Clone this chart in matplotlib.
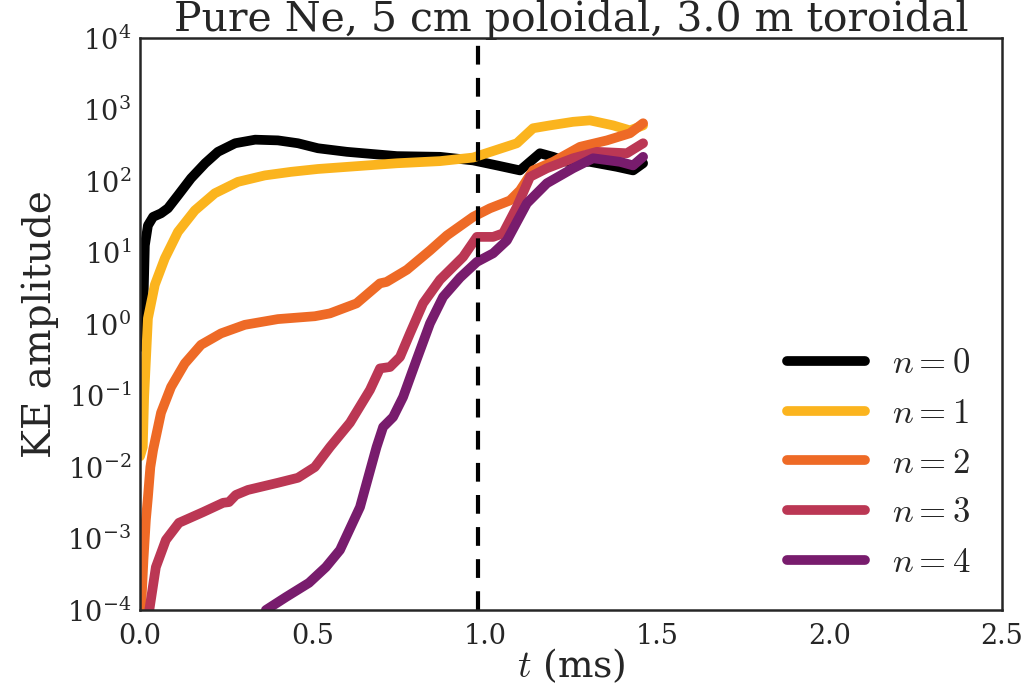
import numpy as np
import matplotlib
matplotlib.use("Agg")
import matplotlib.pyplot as plt
import seaborn as sns

# KE amplitude per toroidal mode number: time (ms) and log10 of the amplitude
t_n0 = [0.0, 0.008, 0.014, 0.023, 0.038, 0.061, 0.081, 0.110, 0.148, 0.189,
        0.226, 0.276, 0.334, 0.400, 0.458, 0.516, 0.600, 0.745, 0.870, 0.966,
        1.035, 1.102, 1.131, 1.160, 1.198, 1.238, 1.305, 1.383, 1.430, 1.459]
lg_n0 = [-0.32, -0.08, 1.10, 1.38, 1.50, 1.55, 1.62, 1.80, 2.04, 2.25,
         2.41, 2.53, 2.58, 2.57, 2.53, 2.46, 2.41, 2.35, 2.34, 2.29,
         2.22, 2.15, 2.27, 2.39, 2.34, 2.27, 2.27, 2.20, 2.15, 2.25]

t_n1 = [0.0, 0.008, 0.012, 0.023, 0.043, 0.072, 0.110, 0.159, 0.217, 0.284,
        0.362, 0.438, 0.516, 0.745, 0.870, 0.966, 1.093, 1.140, 1.189, 1.256,
        1.305, 1.372, 1.421, 1.459]
lg_n1 = [-1.85, -1.72, -1.02, 0.08, 0.55, 0.92, 1.29, 1.59, 1.83, 1.99,
         2.08, 2.13, 2.17, 2.25, 2.28, 2.33, 2.53, 2.74, 2.78, 2.83,
         2.85, 2.78, 2.71, 2.78]

t_n2 = [0.003, 0.010, 0.017, 0.023, 0.030, 0.038, 0.061, 0.090, 0.130, 0.177,
        0.235, 0.304, 0.400, 0.507, 0.551, 0.628, 0.696, 0.715, 0.774, 0.841,
        0.890, 0.966, 1.015, 1.073, 1.102, 1.140, 1.198, 1.276, 1.354, 1.421,
        1.459]
lg_n2 = [-4.0, -3.3, -2.74, -2.42, -2.0, -1.76, -1.24, -0.88, -0.55, -0.29,
         -0.13, -0.01, 0.07, 0.11, 0.15, 0.29, 0.57, 0.59, 0.76, 1.03,
         1.24, 1.50, 1.62, 1.73, 1.87, 2.15, 2.27, 2.48, 2.57, 2.67,
         2.81]

t_n3 = [0.027, 0.046, 0.075, 0.113, 0.183, 0.241, 0.258, 0.278, 0.313, 0.400,
        0.458, 0.507, 0.551, 0.609, 0.667, 0.696, 0.725, 0.754, 0.783, 0.821,
        0.870, 0.937, 0.977, 1.024, 1.053, 1.093, 1.131, 1.180, 1.256, 1.325,
        1.412, 1.459]
lg_n3 = [-4.0, -3.40, -3.02, -2.78, -2.63, -2.50, -2.49, -2.39, -2.32, -2.22,
         -2.15, -2.00, -1.72, -1.38, -0.92, -0.62, -0.60, -0.46, -0.13, 0.29,
         0.62, 0.94, 1.22, 1.22, 1.27, 1.64, 2.06, 2.18, 2.32, 2.41,
         2.39, 2.53]

t_n4 = [0.365, 0.423, 0.490, 0.539, 0.580, 0.638, 0.686, 0.705, 0.734, 0.763,
        0.802, 0.841, 0.879, 0.928, 0.977, 1.024, 1.064, 1.122, 1.180, 1.256,
        1.314, 1.392, 1.430, 1.459]
lg_n4 = [-4.0, -3.82, -3.62, -3.40, -3.16, -2.56, -1.72, -1.44, -1.30, -1.02,
         -0.50, 0.01, 0.38, 0.65, 0.87, 0.99, 1.17, 1.69, 1.97, 2.18,
         2.32, 2.27, 2.22, 2.34]

series = [(t_n0, lg_n0), (t_n1, lg_n1), (t_n2, lg_n2), (t_n3, lg_n3), (t_n4, lg_n4)]
labels = ["$n=0$", "$n=1$", "$n=2$", "$n=3$", "$n=4$"]
colors = ["#000000", "#fbb41e", "#ee6a26", "#bb3754", "#781c6d"]
t_mark = 0.98  # ms, dashed reference time

sns.set_style("white")
plt.rcParams["font.family"] = ["DejaVu Serif"]
plt.rcParams["mathtext.fontset"] = "cm"
plt.rcParams["axes.edgecolor"] = "#262626"
plt.rcParams["axes.linewidth"] = 1.8

fig = plt.figure(figsize=(10.34, 6.94), dpi=100)
ax = fig.add_axes([0.1354, 0.121, 0.8337, 0.824])

for (t, lg), lab, col in zip(series, labels, colors):
    ax.plot(t, 10.0 ** np.array(lg), color=col, lw=7, label=lab,
            solid_joinstyle="round", solid_capstyle="round")

ax.axvline(t_mark, color="black", lw=3, ls=(0, (4.5, 3.2)))

ax.set_yscale("log")
ax.set_xlim(0, 2.5)
ax.set_ylim(1e-4, 1e4)
ax.set_xticks([0.0, 0.5, 1.0, 1.5, 2.0, 2.5])
ax.set_xticklabels(["0.0", "0.5", "1.0", "1.5", "2.0", "2.5"])
ax.set_yticks([10.0 ** k for k in range(-4, 5)])
ax.set_yticklabels(["10$^{\\mathdefault{%d}}$" % k for k in range(-4, 5)])
ax.tick_params(labelsize=19.5, colors="#262626", length=0, pad=6)
ax.tick_params(axis="x", pad=9)
ax.minorticks_off()

ax.set_xlabel("$t$ (ms)", fontsize=27, color="#262626", labelpad=-2)
ax.set_ylabel("KE amplitude", fontsize=28, color="#262626", labelpad=6)
ax.set_title("Pure Ne, 5 cm poloidal, 3.0 m toroidal", fontsize=29.5,
             color="#262626", pad=5)

leg = ax.legend(loc="lower right", fontsize=25, frameon=False,
                handlelength=2.25, labelspacing=0.45, borderaxespad=0.5)
for line in leg.get_lines():
    line.set_linewidth(7)

fig.savefig("out.png", dpi=100)
